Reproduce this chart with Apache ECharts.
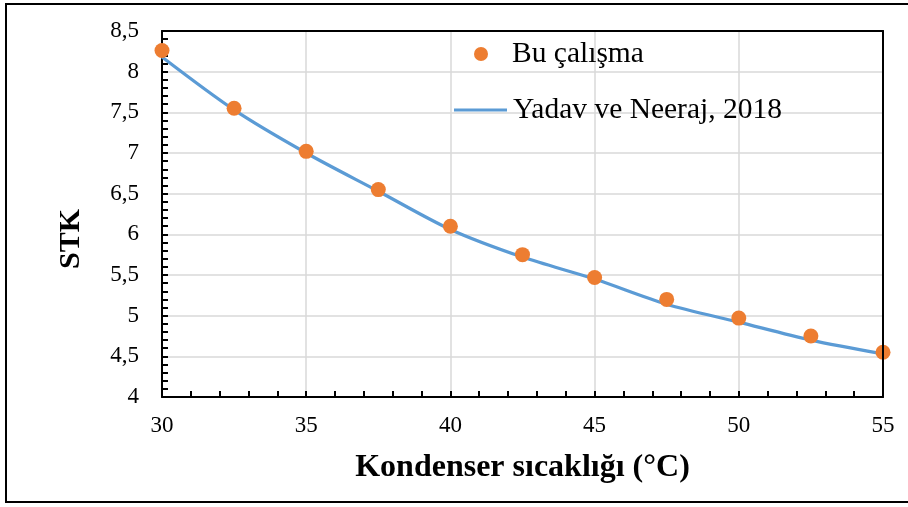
<!DOCTYPE html>
<html>
<head>
<meta charset="utf-8">
<script src="https://cdn.jsdelivr.net/npm/echarts@6/dist/echarts.min.js"></script>
<style>
  html, body { margin: 0; padding: 0; background: #fff; }
  #chart { width: 908px; height: 507px; }
</style>
</head>
<body>
<div id="chart"></div>
<script>
// Condenser temperature (°C)
const temps = [30, 32.5, 35, 37.5, 40, 42.5, 45, 47.5, 50, 52.5, 55];
// COP from this study (points)
const copStudy = [8.26, 7.55, 7.02, 6.55, 6.10, 5.75, 5.47, 5.20, 4.97, 4.75, 4.55];
// COP reported by Yadav & Neeraj, 2018 (curve)
const copYadav = [8.18, 7.53, 7.00, 6.53, 6.06, 5.72, 5.45, 5.14, 4.92, 4.70, 4.53];

const nameStudy = 'Bu çalışma';
const nameYadav = 'Yadav ve Neeraj, 2018';
const xTitle = 'Kondenser sıcaklığı (°C)';
const yTitle = 'STK';

const serif = '"Liberation Serif", "Times New Roman", serif';
const frameLine = { show: true, lineStyle: { color: '#000', width: 2 } };

const chart = echarts.init(document.getElementById('chart'));
chart.setOption({
  animation: false,
  backgroundColor: '#fff',
  grid: { left: 162, right: 25, top: 31, bottom: 110 },
  legend: [
    {
      data: [{ name: nameStudy, icon: 'circle' }],
      left: 469, top: 34,
      itemWidth: 14, itemHeight: 14,
      itemGap: 0,
      textStyle: { fontFamily: serif, fontSize: 29.5, color: '#000', padding: [0, 0, 0, 19] }
    },
    {
      data: [{ name: nameYadav, icon: 'rect' }],
      left: 449, top: 90,
      itemWidth: 53, itemHeight: 3.2,
      itemGap: 0,
      textStyle: { fontFamily: serif, fontSize: 29.5, color: '#000', padding: [0, 0, 0, 1] }
    }
  ],
  xAxis: [
    {
      type: 'value',
      min: 30, max: 55, interval: 5,
      name: xTitle,
      nameLocation: 'middle',
      nameGap: 55,
      nameTextStyle: { fontFamily: serif, fontSize: 32, fontWeight: 'bold', color: '#000' },
      axisLine: frameLine,
      axisTick: { show: true, inside: true, length: 6, lineStyle: { color: '#000', width: 2 } },
      minorTick: { show: true, splitNumber: 5, length: 6, lineStyle: { color: '#000', width: 2 } },
      axisLabel: { fontFamily: serif, fontSize: 23, color: '#000', margin: 17 },
      splitLine: { show: true, lineStyle: { color: '#d9d9d9', width: 1.5 } },
      z: 1
    },
    {
      // top frame edge
      type: 'value', position: 'top', min: 30, max: 55, interval: 5,
      axisLine: frameLine, axisTick: { show: false }, axisLabel: { show: false },
      splitLine: { show: false }, z: 5
    }
  ],
  yAxis: [
    {
      type: 'value',
      min: 4, max: 8.5, interval: 0.5,
      name: yTitle,
      nameLocation: 'middle',
      nameGap: 76,
      nameRotate: 90,
      nameTextStyle: {
        fontFamily: serif, fontSize: 30, fontWeight: 'bold', color: '#000',
        padding: [0, 50, 0, 0]
      },
      axisLine: frameLine,
      axisTick: { show: true, inside: true, length: 6, lineStyle: { color: '#000', width: 2 } },
      minorTick: { show: true, splitNumber: 5, length: 6, lineStyle: { color: '#000', width: 2 } },
      axisLabel: {
        fontFamily: serif, fontSize: 23, color: '#000', margin: 23,
        formatter: v => String(v).replace('.', ',')
      },
      splitLine: { show: true, lineStyle: { color: '#d9d9d9', width: 1.5 } },
      z: 1
    },
    {
      // right frame edge
      type: 'value', position: 'right', min: 4, max: 8.5, interval: 0.5,
      axisLine: frameLine, axisTick: { show: false }, axisLabel: { show: false },
      splitLine: { show: false }, z: 5
    }
  ],
  series: [
    {
      name: nameYadav,
      type: 'line',
      data: temps.map((t, i) => [t, copYadav[i]]),
      smooth: 0.3,
      symbol: 'none',
      lineStyle: { color: '#5B9BD5', width: 3.2 },
      itemStyle: { color: '#5B9BD5' },
      z: 2
    },
    {
      name: nameStudy,
      type: 'scatter',
      data: temps.map((t, i) => [t, copStudy[i]]),
      symbol: 'circle',
      symbolSize: 15,
      itemStyle: { color: '#ED7D31', opacity: 1 },
      z: 3
    }
  ],
  graphic: [
    {
      type: 'polyline',
      shape: { points: [[908, 4], [6, 4], [6, 502], [908, 502]] },
      style: { stroke: '#000', lineWidth: 2, fill: null },
      silent: true
    }
  ]
});
</script>
</body>
</html>
